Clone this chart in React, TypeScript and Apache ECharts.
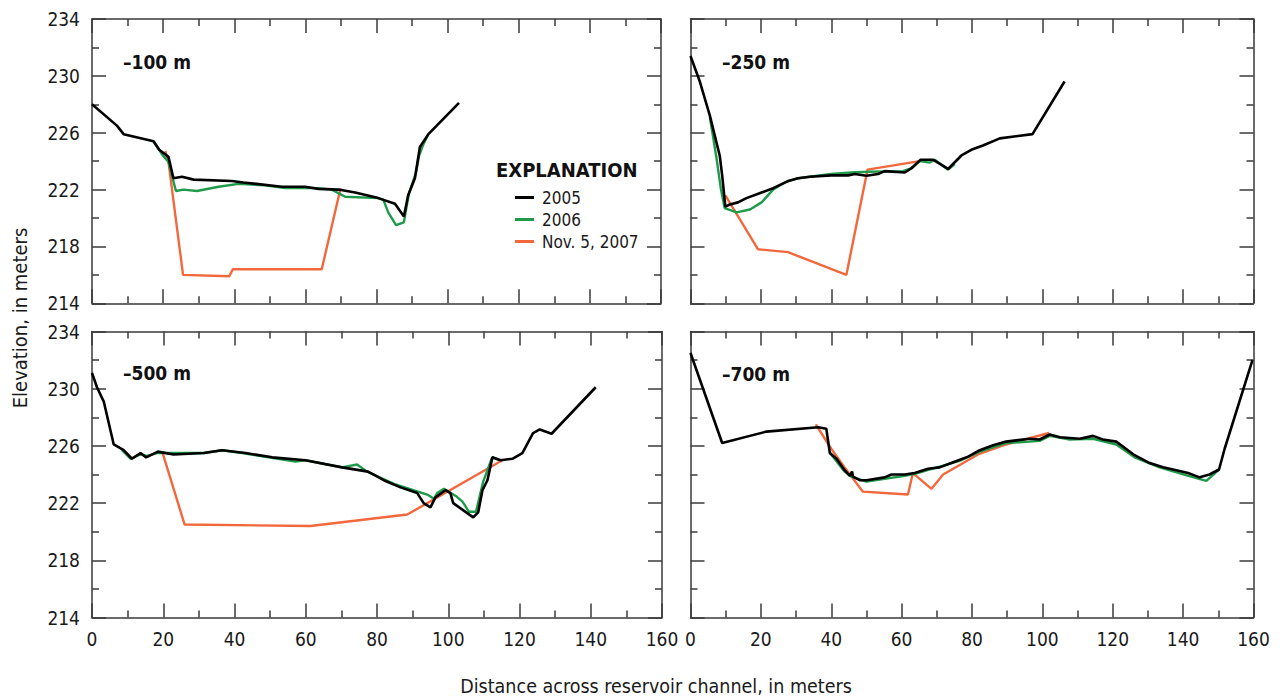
import React, { useEffect, useRef } from "react";
import * as echarts from "echarts";

// ---- Data (distance m, elevation m) ----
const panelTitles = ["\u2013100 m", "\u2013250 m", "\u2013500 m", "\u2013700 m"];
const seriesNames = ["2005", "2006", "Nov. 5, 2007"];
const xTicks = [0, 20, 40, 60, 80, 100, 120, 140, 160];
const yTicks = [214, 218, 222, 226, 230, 234];

const p100_2005 = [[0,228.0],[7.0,226.5],[8.9,225.9],[17.3,225.4],[18.9,224.8],[21.5,224.3],[22.9,222.8],[25.3,222.9],[28.6,222.7],[39.3,222.6],[42.6,222.5],[53.4,222.2],[59.9,222.2],[63.7,222.05],[69.3,222.0],[74.0,221.8],[80.5,221.4],[85.2,221.0],[87.7,220.1],[88.9,221.6],[90.8,222.8],[92.2,225.0],[94.6,225.9],[103.2,228.1]];
const p100_2006 = [[17.3,225.4],[19.9,224.4],[21.5,223.95],[23.6,221.9],[25.7,222.0],[29.5,221.9],[35.6,222.2],[41.2,222.4],[48.7,222.3],[54.3,222.1],[63.7,222.1],[67.4,222.0],[71.2,221.5],[80.5,221.4],[81.9,221.3],[83.3,220.4],[85.5,219.5],[87.7,219.7],[89.1,221.7],[91.1,223.2],[92.0,224.4],[93.2,225.2],[94.6,225.9]];
const p100_2007 = [[20.6,224.7],[21.5,223.95],[25.6,216.0],[38.6,215.9],[39.6,216.4],[64.6,216.4],[69.9,222.1]];

const p250_2005 = [[0,231.4],[2.65,229.6],[5.5,227.2],[6.9,225.8],[8.3,224.4],[9.0,223.0],[9.9,220.8],[11.2,220.95],[13.5,221.1],[15.9,221.4],[20.2,221.8],[23.5,222.1],[27.7,222.6],[30.6,222.8],[33.9,222.9],[40.0,223.0],[44.8,223.0],[46.7,223.1],[50.0,222.97],[53.3,223.1],[55.2,223.3],[60.9,223.2],[62.8,223.5],[65.4,224.1],[68.9,224.1],[73.2,223.45],[77.0,224.4],[79.8,224.8],[83.1,225.1],[87.9,225.6],[97.2,225.9],[106.3,229.6]];
const p250_2006 = [[5.5,227.1],[7.4,224.2],[8.6,222.1],[9.7,220.7],[13.1,220.4],[16.9,220.6],[20.2,221.1],[23.5,222.0],[26.8,222.5],[30.6,222.8],[40.0,223.1],[45.7,223.2],[50.5,223.25],[60.4,223.3],[62.8,223.5],[65.1,224.0],[68.0,223.9],[69.4,224.1],[73.2,223.4],[75.1,223.8]];
const p250_2007 = [[9.9,221.6],[19.2,217.8],[27.7,217.6],[44.3,216.0],[50.3,223.4],[65.1,224.0]];

const p500_2005 = [[0,231.1],[1.4,230.1],[3.3,229.1],[4.7,227.6],[6.1,226.1],[8.9,225.7],[11.2,225.1],[13.6,225.5],[15.2,225.2],[18.5,225.6],[22.9,225.4],[31.4,225.5],[36.5,225.7],[43.1,225.5],[50.6,225.2],[59.9,225.0],[70.2,224.5],[77.5,224.2],[81.9,223.6],[86.6,223.1],[91.3,222.7],[93.1,222.0],[95.0,221.7],[96.4,222.4],[99.2,222.9],[100.6,222.7],[101.4,222.0],[107.0,221.0],[108.4,221.35],[109.6,222.9],[111.0,223.6],[112.4,225.2],[114.7,225.0],[118.0,225.1],[120.8,225.5],[123.8,226.9],[125.7,227.15],[129.0,226.85],[141.4,230.1]];
const p500_2006 = [[8.4,225.7],[10.8,225.1],[13.6,225.4],[15.4,225.3],[18.3,225.5],[22.9,225.5],[31.4,225.5],[36.5,225.7],[42.1,225.5],[57.1,224.9],[59.9,225.0],[70.2,224.5],[74.4,224.7],[77.2,224.2],[85.2,223.3],[94.1,222.6],[96.0,222.3],[96.9,222.7],[98.8,223.0],[102.1,222.5],[104.0,222.1],[105.8,221.4],[107.8,221.4],[109.8,223.5],[111.0,224.3],[112.3,225.2],[114.4,225.0]];
const p500_2007 = [[19.7,225.6],[26.0,220.5],[61.3,220.4],[88.5,221.2],[115.2,225.0]];

const p700_2005 = [[0,232.5],[9.0,226.2],[21.6,227.0],[36.3,227.3],[38.6,227.2],[39.6,225.5],[41.5,225.1],[43.8,224.3],[45.3,223.9],[45.9,224.2],[46.2,223.85],[48.1,223.6],[50.0,223.6],[55.2,223.8],[57.1,224.0],[60.9,224.0],[63.7,224.1],[67.5,224.4],[70.8,224.5],[74.1,224.8],[78.9,225.25],[82.2,225.7],[86.0,226.05],[89.7,226.3],[96.4,226.5],[99.2,226.45],[102.1,226.8],[105.0,226.6],[110.6,226.5],[114.4,226.7],[117.2,226.45],[121.0,226.3],[126.2,225.35],[130.5,224.8],[134.3,224.5],[138.1,224.3],[141.4,224.1],[144.7,223.8],[147.5,224.0],[150.2,224.35],[151.8,225.8],[159.7,232.0]];
const p700_2006 = [[39.6,225.5],[40.0,225.4],[43.8,224.2],[45.7,223.85],[50.0,223.5],[55.2,223.7],[60.9,223.9],[63.7,224.05],[76.5,224.95],[82.2,225.6],[89.7,226.2],[96.4,226.3],[99.2,226.35],[102.1,226.7],[107.8,226.45],[114.4,226.5],[121.0,226.1],[126.2,225.2],[133.3,224.5],[141.5,223.9],[146.6,223.55],[150.2,224.35]];
const p700_2007 = [[35.6,227.5],[40.0,225.8],[43.8,224.5],[49.0,222.8],[61.8,222.6],[63.2,224.1],[68.5,223.0],[71.8,224.0],[81.7,225.4],[89.7,226.1],[101.9,226.9]];

const panels = [
  [p100_2005, p100_2006, p100_2007],
  [p250_2005, p250_2006, p250_2007],
  [p500_2005, p500_2006, p500_2007],
  [p700_2005, p700_2006, p700_2007],
];

const COLORS = ["#000000", "#1e9a4a", "#f2683c"];
const FONT = "'Liberation Sans Narrow', 'DejaVu Sans Condensed', 'Roboto', sans-serif";
const AXIS_COLOR = "#3a3a3a";

const grids = [
  { left: 92, top: 19, width: 569, height: 284.3 },
  { left: 690.5, top: 19, width: 563, height: 284.3 },
  { left: 92, top: 331.5, width: 570, height: 286 },
  { left: 690.5, top: 331.5, width: 563, height: 286 },
];

export default function App() {
  const ref = useRef<HTMLDivElement>(null);
  useEffect(() => {
    if (!ref.current) return;
    const chart = echarts.init(ref.current, undefined, { renderer: "svg" });
    const line = { color: AXIS_COLOR, width: 1.5 };
    const xAxes: any[] = [];
    const yAxes: any[] = [];
    grids.forEach((_, i) => {
      const showX = i >= 2;
      const showY = i % 2 === 0;
      xAxes.push({
        gridIndex: i, type: "value", position: "bottom", min: 0, max: 160, interval: 20,
        axisLine: { show: true, onZero: false, lineStyle: line },
        axisTick: { show: true, inside: true, length: 14, lineStyle: line },
        minorTick: { show: true, splitNumber: 2, length: 7, lineStyle: line },
        splitLine: { show: false }, minorSplitLine: { show: false },
        axisLabel: { show: showX, margin: 12, fontSize: 19, color: "#1a1a1a", fontFamily: FONT,
          formatter: (v: number) => (xTicks.includes(v) ? String(v) : "") },
      });
      xAxes.push({
        gridIndex: i, type: "value", position: "top", min: 0, max: 160, interval: 20,
        axisLine: { show: true, onZero: false, lineStyle: line },
        axisTick: { show: true, inside: true, length: 14, lineStyle: line },
        minorTick: { show: true, splitNumber: 2, length: 7, lineStyle: line },
        splitLine: { show: false }, axisLabel: { show: false },
      });
      yAxes.push({
        gridIndex: i, type: "value", position: "left", min: 214, max: 234, interval: 4,
        axisLine: { show: true, onZero: false, lineStyle: line },
        axisTick: { show: true, inside: true, length: 14, lineStyle: line },
        minorTick: { show: true, splitNumber: 2, length: 7, lineStyle: line },
        splitLine: { show: false }, minorSplitLine: { show: false },
        axisLabel: { show: showY, margin: 12, fontSize: 19, color: "#1a1a1a", fontFamily: FONT,
          formatter: (v: number) => (yTicks.includes(v) ? String(v) : "") },
      });
      yAxes.push({
        gridIndex: i, type: "value", position: "right", min: 214, max: 234, interval: 4,
        axisLine: { show: true, onZero: false, lineStyle: line },
        axisTick: { show: true, inside: true, length: 14, lineStyle: line },
        minorTick: { show: true, splitNumber: 2, length: 7, lineStyle: line },
        splitLine: { show: false }, axisLabel: { show: false },
      });
    });

    const series: any[] = [];
    panels.forEach((set, i) => {
      [2, 1, 0].forEach((k) => {
        series.push({
          name: seriesNames[k], type: "line", xAxisIndex: i * 2, yAxisIndex: i * 2,
          data: set[k], symbol: "none", showSymbol: false, smooth: false,
          lineStyle: { color: COLORS[k], width: k === 0 ? 2.6 : 2.4 },
          itemStyle: { color: COLORS[k] }, z: 3 + (2 - k),
        });
      });
    });

    const labelPos = [[123, 62], [722, 62], [123, 373], [722, 374]];
    const graphic: any[] = panelTitles.map((t, i) => ({
      type: "text", left: labelPos[i][0], top: labelPos[i][1] - 10,
      style: { text: t, fontSize: 19, fontWeight: "bold", fontFamily: FONT, fill: "#111" },
    }));
    graphic.push({
      type: "text", left: 496, top: 160,
      style: { text: "EXPLANATION", fontSize: 20, fontWeight: "bold", fontFamily: FONT, fill: "#111" },
    });
    graphic.push({
      type: "text", x: 20, y: 318, rotation: Math.PI / 2,
      style: { text: "Elevation, in meters", fontSize: 20, fontFamily: FONT, fill: "#1a1a1a", align: "center", verticalAlign: "middle" },
    });
    graphic.push({
      type: "text", x: 656, y: 686,
      style: { text: "Distance across reservoir channel, in meters", fontSize: 19.5, fontFamily: FONT, fill: "#1a1a1a", align: "center", verticalAlign: "middle" },
    });

    chart.setOption({
      animation: false,
      backgroundColor: "#ffffff",
      grid: grids,
      xAxis: xAxes,
      yAxis: yAxes,
      series,
      legend: {
        data: seriesNames, orient: "vertical", left: 510, top: 184,
        icon: "rect", itemWidth: 19, itemHeight: 3, itemGap: 5,
        selectedMode: false,
        textStyle: { fontSize: 17, fontFamily: FONT, color: "#1a1a1a", padding: [0, 0, 0, 3] },
      },
      graphic,
    });
    return () => chart.dispose();
  }, []);
  return <div ref={ref} style={{ position: "fixed", left: 0, top: 0, width: 1280, height: 698 }} />;
}
